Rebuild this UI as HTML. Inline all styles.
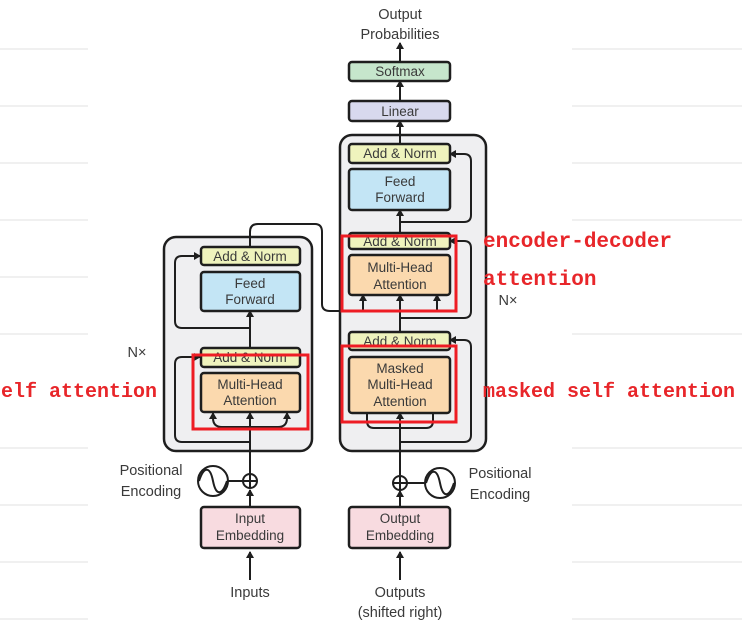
<!DOCTYPE html>
<html><head><meta charset="utf-8"><style>
html,body{margin:0;padding:0;background:#fff;}
svg{display:block;}
.t{font-family:"Liberation Sans",sans-serif;font-size:13.5px;fill:#3a3a3a;text-anchor:middle;}
.r{font-family:"Liberation Mono",monospace;font-size:20px;fill:#e8262a;font-weight:bold;}
.b{stroke:#1e1e1e;stroke-width:2.5;}
.l{stroke:#1e1e1e;stroke-width:2;fill:none;}
</style></head><body>
<svg width="742" height="631" viewBox="0 0 742 631" xmlns="http://www.w3.org/2000/svg">
<defs><marker id="a" markerWidth="8" markerHeight="8" refX="6" refY="4" orient="auto" markerUnits="userSpaceOnUse"><path d="M0,0 L7,4 L0,8 z" fill="#1e1e1e"/></marker></defs>
<g stroke="#f0f0f0" stroke-width="2">
<line x1="0" y1="49" x2="88" y2="49"/><line x1="0" y1="106" x2="88" y2="106"/><line x1="0" y1="163" x2="88" y2="163"/><line x1="0" y1="220" x2="88" y2="220"/><line x1="0" y1="277" x2="88" y2="277"/><line x1="0" y1="334" x2="88" y2="334"/><line x1="0" y1="448" x2="88" y2="448"/><line x1="0" y1="505" x2="88" y2="505"/><line x1="0" y1="562" x2="88" y2="562"/><line x1="0" y1="619" x2="88" y2="619"/>
<line x1="572" y1="49" x2="742" y2="49"/><line x1="572" y1="106" x2="742" y2="106"/><line x1="572" y1="163" x2="742" y2="163"/><line x1="572" y1="220" x2="742" y2="220"/><line x1="572" y1="334" x2="742" y2="334"/><line x1="572" y1="448" x2="742" y2="448"/><line x1="572" y1="505" x2="742" y2="505"/><line x1="572" y1="562" x2="742" y2="562"/><line x1="572" y1="619" x2="742" y2="619"/>
</g>
<rect x="164" y="237" width="148" height="214" rx="12" fill="#efeff1" class="b"/>
<rect x="340" y="135" width="146" height="316" rx="12" fill="#efeff1" class="b"/>
<line x1="250" y1="548" x2="250" y2="507" class="l"/>
<line x1="250" y1="580" x2="250" y2="552" class="l" marker-end="url(#a)"/>
<line x1="250" y1="507" x2="250" y2="490" class="l" marker-end="url(#a)"/>
<line x1="250" y1="474" x2="250" y2="413" class="l" marker-end="url(#a)"/>
<path d="M250,427 H222 Q213,427 213,418 V413" class="l" marker-end="url(#a)"/>
<path d="M250,427 H278 Q287,427 287,418 V413" class="l" marker-end="url(#a)"/>
<path d="M250,442 H182 Q175,442 175,435 V364 Q175,357 182,357 H200" class="l" marker-end="url(#a)"/>
<line x1="250" y1="348" x2="250" y2="311" class="l" marker-end="url(#a)"/>
<path d="M250,328 H182 Q175,328 175,321 V263 Q175,256 182,256 H200" class="l" marker-end="url(#a)"/>
<path d="M250,247 V232 Q250,224 258,224 H315 Q322,224 322,232 V304 Q322,311 330,311 H437" class="l"/>
<line x1="363" y1="311" x2="363" y2="295" class="l" marker-end="url(#a)"/>
<line x1="437" y1="311" x2="437" y2="295" class="l" marker-end="url(#a)"/>
<line x1="400" y1="580" x2="400" y2="552" class="l" marker-end="url(#a)"/>
<line x1="400" y1="507" x2="400" y2="491" class="l" marker-end="url(#a)"/>
<line x1="400" y1="475" x2="400" y2="413" class="l" marker-end="url(#a)"/>
<path d="M400,428 H374 Q367,428 367,421 V413" class="l"/>
<path d="M400,428 H426 Q433,428 433,421 V413" class="l"/>
<path d="M400,442 H464 Q471,442 471,435 V347 Q471,340 464,340 H450" class="l" marker-end="url(#a)"/>
<line x1="400" y1="332" x2="400" y2="295" class="l" marker-end="url(#a)"/>
<path d="M400,318 H464 Q471,318 471,311 V248 Q471,241 464,241 H450" class="l" marker-end="url(#a)"/>
<line x1="400" y1="232" x2="400" y2="210" class="l" marker-end="url(#a)"/>
<path d="M400,222 H464 Q471,222 471,215 V161 Q471,154 464,154 H450" class="l" marker-end="url(#a)"/>
<line x1="400" y1="144" x2="400" y2="121" class="l" marker-end="url(#a)"/>
<line x1="400" y1="101" x2="400" y2="81" class="l" marker-end="url(#a)"/>
<line x1="400" y1="62" x2="400" y2="43" class="l" marker-end="url(#a)"/>
<rect x="201" y="247" width="99" height="18" rx="3" fill="#eff3bd" class="b"/><text x="250" y="261" class="t">Add &amp; Norm</text>
<rect x="201" y="272" width="99" height="39" rx="3" fill="#c3e5f5" class="b"/><text x="250" y="288" class="t">Feed</text><text x="250" y="304" class="t">Forward</text>
<rect x="201" y="348" width="99" height="19" rx="3" fill="#eff3bd" class="b"/><text x="250" y="362" class="t">Add &amp; Norm</text>
<rect x="201" y="373" width="99" height="39" rx="3" fill="#fbd9ae" class="b"/><text x="250" y="389" class="t">Multi-Head</text><text x="250" y="405" class="t">Attention</text>
<rect x="201" y="507" width="99" height="41" rx="3" fill="#f8dbe0" class="b"/><text x="250" y="523" class="t">Input</text><text x="250" y="540" class="t">Embedding</text>
<rect x="349" y="62" width="101" height="19" rx="3" fill="#c6e6cc" class="b"/><text x="400" y="76" class="t">Softmax</text>
<rect x="349" y="101" width="101" height="20" rx="3" fill="#d8d9ee" class="b"/><text x="400" y="116" class="t">Linear</text>
<rect x="349" y="144" width="101" height="19" rx="3" fill="#eff3bd" class="b"/><text x="400" y="158" class="t">Add &amp; Norm</text>
<rect x="349" y="169" width="101" height="41" rx="3" fill="#c3e5f5" class="b"/><text x="400" y="186" class="t">Feed</text><text x="400" y="202" class="t">Forward</text>
<rect x="349" y="233" width="101" height="16" rx="3" fill="#eff3bd" class="b"/><text x="400" y="246" class="t">Add &amp; Norm</text>
<rect x="349" y="255" width="101" height="40" rx="3" fill="#fbd9ae" class="b"/><text x="400" y="272" class="t">Multi-Head</text><text x="400" y="289" class="t">Attention</text>
<rect x="349" y="332" width="101" height="18" rx="3" fill="#eff3bd" class="b"/><text x="400" y="346" class="t">Add &amp; Norm</text>
<rect x="349" y="357" width="101" height="56" rx="3" fill="#fbd9ae" class="b"/><text x="400" y="373" class="t">Masked</text><text x="400" y="389" class="t">Multi-Head</text><text x="400" y="406" class="t">Attention</text>
<rect x="349" y="507" width="101" height="41" rx="3" fill="#f8dbe0" class="b"/><text x="400" y="523" class="t">Output</text><text x="400" y="540" class="t">Embedding</text>
<line x1="228" y1="481" x2="243" y2="481" class="l"/>
<circle cx="213" cy="481" r="15" fill="#fff" class="l"/><path d="M199,481 C204,466 210,466 213,481 C216,496 222,496 227,481" class="l"/>
<circle cx="250" cy="481" r="7" fill="#fff" class="l"/><line x1="243" y1="481" x2="257" y2="481" class="l"/><line x1="250" y1="474" x2="250" y2="488" class="l"/>
<line x1="407" y1="483" x2="425" y2="483" class="l"/>
<circle cx="440" cy="483" r="15" fill="#fff" class="l"/><path d="M426,483 C431,468 437,468 440,483 C443,498 449,498 454,483" class="l"/>
<circle cx="400" cy="483" r="7" fill="#fff" class="l"/><line x1="393" y1="483" x2="407" y2="483" class="l"/><line x1="400" y1="476" x2="400" y2="490" class="l"/>
<text x="400" y="19" class="t" style="font-size:14.5px">Output</text>
<text x="400" y="39" class="t" style="font-size:14.5px">Probabilities</text>
<text x="151" y="475" class="t" style="font-size:14.5px">Positional</text>
<text x="151" y="496" class="t" style="font-size:14.5px">Encoding</text>
<text x="500" y="478" class="t" style="font-size:14.5px">Positional</text>
<text x="500" y="499" class="t" style="font-size:14.5px">Encoding</text>
<text x="250" y="597" class="t" style="font-size:14.5px">Inputs</text>
<text x="400" y="597" class="t" style="font-size:14.5px">Outputs</text>
<text x="400" y="617" class="t" style="font-size:14.5px">(shifted right)</text>
<text x="137" y="357" class="t" style="font-size:14.5px">N×</text>
<text x="508" y="305" class="t" style="font-size:14.5px">N×</text>
<g fill="none" stroke="#ee1c24" stroke-width="3">
<rect x="193" y="355" width="115" height="74"/>
<rect x="342" y="236" width="114" height="75"/>
<rect x="342" y="346" width="114" height="76"/>
</g>
<text x="-11" y="397" class="r">self attention</text>
<text x="483" y="247" class="r" style="font-size:21px">encoder-decoder</text>
<text x="483" y="285" class="r" style="font-size:21px">attention</text>
<text x="483" y="397" class="r">masked self attention</text>
</svg>
</body></html>
